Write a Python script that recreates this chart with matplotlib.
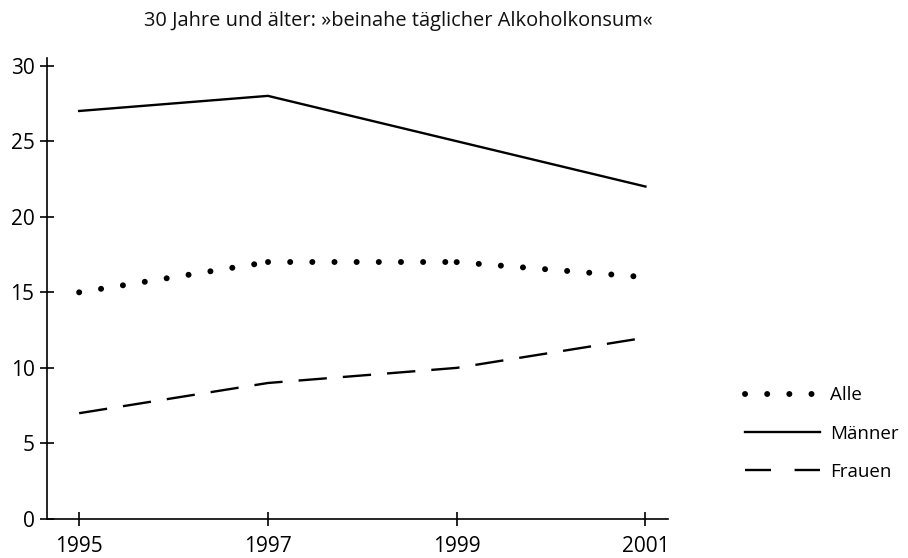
import matplotlib
matplotlib.use("Agg")
import matplotlib.pyplot as plt
from matplotlib.lines import Line2D

plt.rcParams['font.family'] = ['Open Sans', 'DejaVu Sans']

# Data
years = [1995, 1997, 1999, 2001]
alle = [15, 17, 17, 16]
maenner = [27, 28, 25, 22]
frauen = [7, 9, 10, 12]
title = "30 Jahre und älter: »beinahe täglicher Alkoholkonsum«"

fig = plt.figure(figsize=(9.08, 5.58), dpi=100)
ax = fig.add_axes([0.0518, 0.0699, 0.684, 0.826])

# dotted line, each segment drawn on its own (dots restart at each year)
for i in range(len(years) - 1):
    ax.plot(years[i:i + 2], alle[i:i + 2], color='black', lw=4.3,
            linestyle=(0, (0.01, 3.7)), dash_capstyle='round')
ax.plot(years, maenner, color='black', lw=1.7)
ax.plot(years, frauen, color='black', lw=1.7, linestyle=(0, (12, 6.8)))

ax.set_xlim(1994.66, 2001.24)
ax.set_ylim(0, 30.5)
ax.set_xticks(years)
ax.set_yticks([0, 5, 10, 15, 20, 25, 30])
for s in ['top', 'right']:
    ax.spines[s].set_visible(False)
for s in ['left', 'bottom']:
    ax.spines[s].set_linewidth(1.2)
ax.tick_params(direction='inout', length=10, width=1.2, labelsize=15)
ax.tick_params(axis='y', pad=4)
ax.tick_params(axis='x', pad=7)

fig.text(0.439, 0.962, title, ha='center', va='center', fontsize=14.4,
         color='#111111')

handles = [
    Line2D([], [], color='black', lw=4.3, linestyle=(0, (0.01, 3.7)), dash_capstyle='round'),
    Line2D([], [], color='black', lw=1.7),
    Line2D([], [], color='black', lw=1.7, linestyle=(0, (11, 10))),
]
fig.legend(handles, ['Alle', 'Männer', 'Frauen'], loc='center left',
           bbox_to_anchor=(0.821, 0.223), frameon=False, fontsize=13.5,
           handlelength=4.0, handletextpad=0.5, labelspacing=1.08,
           borderpad=0, borderaxespad=0)

plt.savefig("out.png", dpi=100)
